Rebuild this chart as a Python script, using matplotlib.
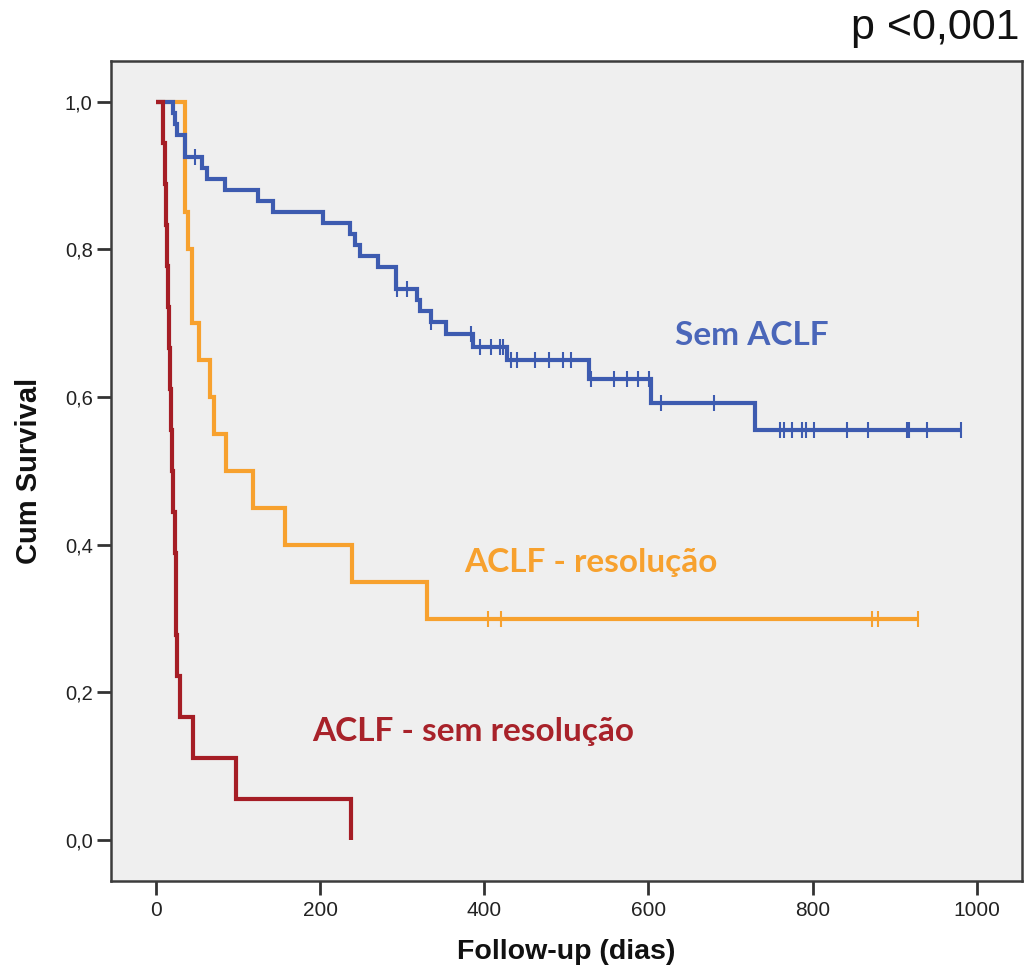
import numpy as np
import matplotlib
matplotlib.use("Agg")
import matplotlib.pyplot as plt

# ---------------- data ----------------
groups = ["Sem ACLF", "ACLF - resolução", "ACLF - sem resolução"]

blue_event_times = [21, 23, 25, 35, 35, 55.6, 61.7, 84, 124.7, 143, 204, 236.4, 242.5,
                    248.6, 270.9, 292, 292, 318.3, 321.7, 335, 353.2, 385.9, 428, 528,
                    603, 730]
blue_surv = [0.985, 0.970, 0.955, 0.940, 0.925, 0.910, 0.896, 0.881, 0.866, 0.851, 0.836,
             0.821, 0.806, 0.791, 0.776, 0.761, 0.746, 0.731, 0.716, 0.701, 0.686, 0.668,
             0.650, 0.625, 0.5915, 0.5553]
blue_censor = [47.5, 294, 305.5, 335.5, 383.6, 394.3, 408.3, 419.5, 423.2, 432.6, 439.5,
               461.4, 478.3, 495.4, 505.7, 530.5, 558.4, 573.4, 587.3, 601, 615.9, 679.7,
               760.3, 765, 775.3, 786.9, 791.6, 802.3, 842, 867.2, 915.2, 917.5, 940, 981]

orange_event_times = [35, 35, 35, 39.4, 43.5, 43.5, 52.8, 65.8, 70.7, 85.3, 118.6, 157, 239, 330]
orange_surv = [0.95, 0.90, 0.85, 0.80, 0.75, 0.70, 0.65, 0.60, 0.55, 0.50, 0.45, 0.40, 0.35, 0.30]
orange_censor = [405, 420, 873, 880, 928]

red_event_times = [9, 11, 12, 13, 15, 16, 17, 18, 19.5, 21, 23, 24.4, 24.4, 26, 29, 45, 98, 238]
red_surv = [0.944, 0.889, 0.833, 0.778, 0.722, 0.667, 0.611, 0.556, 0.500, 0.444, 0.389,
            0.333, 0.278, 0.222, 0.167, 0.111, 0.056, 0.0]
red_censor = []

x_ticks = [0, 200, 400, 600, 800, 1000]
y_ticks = [0.0, 0.2, 0.4, 0.6, 0.8, 1.0]
y_tick_labels = ["0,0", "0,2", "0,4", "0,6", "0,8", "1,0"]
p_text = "p <0,001"

# ---------------- style ----------------
col_blue = "#3d5bb0"
col_orange = "#f7a12e"
col_red = "#a51d25"
col_blue_txt = "#4a66b9"
col_orange_txt = "#f7a12e"
col_red_txt = "#a8222a"

fig = plt.figure(figsize=(10.33, 9.73), dpi=100)
fig.patch.set_facecolor("white")
ax = fig.add_axes([0.1072, 0.0949, 0.8826, 0.8427])
ax.set_facecolor("#efefef")


def draw_km(times, surv, censor, color, end=None):
    xs = [0.0] + list(times)
    ys = [1.0] + list(surv)
    last_t = max(list(times) + list(censor) + ([end] if end is not None else []))
    xs = xs + [last_t]
    ys = ys + [ys[-1]]
    ax.step(xs, ys, where="post", color=color, lw=3.0, solid_joinstyle="miter",
            solid_capstyle="butt", zorder=3)
    if censor:
        t_arr = np.array(times, dtype=float)
        s_arr = np.array(surv, dtype=float)
        cy = []
        for c in censor:
            idx = np.searchsorted(t_arr, c, side="right") - 1
            cy.append(1.0 if idx < 0 else s_arr[idx])
        ax.plot(censor, cy, linestyle="none", marker="|", markersize=12,
                markeredgewidth=1.5, color=color, zorder=4)


draw_km(orange_event_times, orange_surv, orange_censor, col_orange)
draw_km(blue_event_times, blue_surv, blue_censor, col_blue)
draw_km(red_event_times, red_surv, red_censor, col_red)

ax.set_xlim(-55.2, 1055.8)
ax.set_ylim(-0.0551, 1.0556)
ax.set_xticks(x_ticks)
ax.set_xticklabels([str(t) for t in x_ticks])
ax.set_yticks(y_ticks)
ax.set_yticklabels(y_tick_labels)

tick_font = ["Liberation Sans", "DejaVu Sans"]
for lab in ax.get_xticklabels():
    lab.set_fontfamily(tick_font)
    lab.set_fontsize(15)
    lab.set_color("#222222")
for lab in ax.get_yticklabels():
    lab.set_fontfamily(tick_font)
    lab.set_fontsize(14.5)
    lab.set_color("#222222")

ax.tick_params(axis="x", length=10, width=2, color="#333333", pad=5, direction="out")
ax.tick_params(axis="y", length=10, width=2, color="#333333", pad=3, direction="out")
for side in ["left", "right", "top", "bottom"]:
    ax.spines[side].set_color("#3c3c3c")
    ax.spines[side].set_linewidth(1.8)

ax.set_xlabel("Follow-up (dias)", fontfamily=tick_font, fontweight="bold", fontsize=20.5,
              color="#111111", labelpad=13)
ax.set_ylabel("Cum Survival", fontfamily=tick_font, fontweight="bold", fontsize=21,
              color="#111111", labelpad=16)

lab_font = ["Lato", "DejaVu Sans"]
ax.text(726, 0.684, groups[0], color=col_blue_txt, fontsize=24, fontweight="bold",
        fontfamily=lab_font, ha="center", va="center", zorder=5)
ax.text(530, 0.3765, groups[1], color=col_orange_txt, fontsize=24, fontweight="bold",
        fontfamily=lab_font, ha="center", va="center", zorder=5)
ax.text(386, 0.1476, groups[2], color=col_red_txt, fontsize=24, fontweight="bold",
        fontfamily=lab_font, ha="center", va="center", zorder=5)

fig.text(0.987, 0.971, p_text, fontsize=31, color="#111111",
         fontfamily=["Liberation Sans Narrow", "Liberation Sans", "DejaVu Sans"],
         ha="right", va="center")

fig.savefig("out.png", dpi=100, facecolor="white")
